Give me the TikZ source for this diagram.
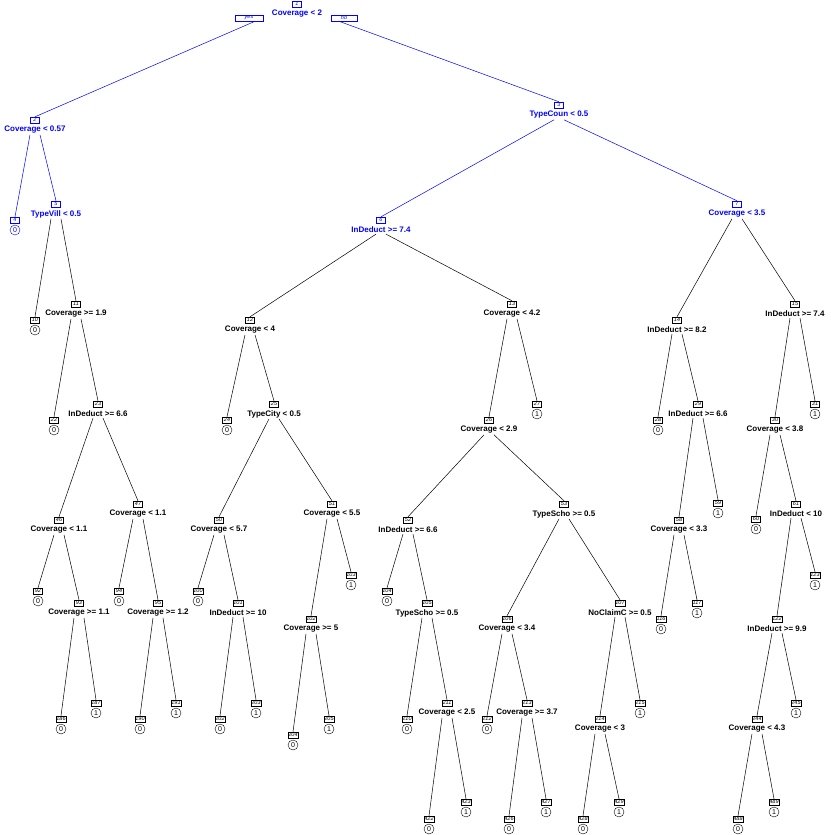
\documentclass[tikz,border=0pt]{standalone}
\usepackage{fontspec}
\setmainfont{Liberation Sans}
\begin{document}
\begin{tikzpicture}[x=1pt,y=-1pt,
  lab/.style={font=\bfseries\fontsize{8}{9}\selectfont,inner sep=1pt},
  num/.style={draw,font=\itshape\fontsize{5.5}{6}\selectfont,inner sep=0.6pt,minimum width=9pt,minimum height=6pt},
  val/.style={draw,circle,font=\fontsize{7}{8}\selectfont,inner sep=0.5pt,minimum size=10pt},
  ed/.style={line width=0.5pt}]
\useasboundingbox (0,0) rectangle (830,835);
\newcommand\spl[5]{\node[num,#5] (B#1) at (#2,#3-10) {#1};\node[lab,text=#5] (L#1) at (#2,#3) {#4};}
\newcommand\lf[5]{\node[num,#5] (B#1) at (#2,#3) {#1};\node[val,#5,text=#5] (C#1) at (#2,#3+10) {#4};}
\newcommand\edl[3]{\draw[ed,#3] ([xshift=-5]L#1.south) -- (B#2.north);}
\newcommand\edr[3]{\draw[ed,#3] ([xshift=5]L#1.south) -- (B#2.north);}
\spl{1}{297}{14}{Coverage < 2}{blue}
\node[num,blue,minimum width=28pt] (yes) at (249,18) {yes};
\node[num,blue,minimum width=26pt] (no) at (344,18) {no};
\spl{2}{35}{130}{Coverage < 0.57}{blue}
\lf{4}{15}{220}{0}{blue}
\spl{5}{56}{214}{TypeVill < 0.5}{blue}
\spl{3}{559}{115}{TypeCoun < 0.5}{blue}
\spl{6}{381}{230}{InDeduct >= 7.4}{blue}
\spl{7}{737}{214}{Coverage < 3.5}{blue}
\lf{10}{35}{320}{0}{black}
\spl{11}{76}{314}{Coverage >= 1.9}{black}
\lf{22}{54}{420}{0}{black}
\spl{23}{98}{414}{InDeduct >= 6.6}{black}
\spl{46}{59}{530}{Coverage < 1.1}{black}
\spl{47}{138}{514}{Coverage < 1.1}{black}
\lf{92}{38}{591}{0}{black}
\spl{93}{79}{613}{Coverage >= 1.1}{black}
\lf{186}{61}{719}{0}{black}
\lf{187}{96}{703}{1}{black}
\lf{94}{119}{591}{0}{black}
\spl{95}{158}{613}{Coverage >= 1.2}{black}
\lf{190}{140}{719}{0}{black}
\lf{191}{176}{703}{1}{black}
\spl{12}{250}{330}{Coverage < 4}{black}
\spl{13}{512}{314}{Coverage < 4.2}{black}
\lf{24}{227}{420}{0}{black}
\spl{25}{274}{414}{TypeCity < 0.5}{black}
\spl{50}{219}{530}{Coverage < 5.7}{black}
\spl{51}{332}{514}{Coverage < 5.5}{black}
\lf{100}{198}{591}{0}{black}
\spl{101}{238}{613}{InDeduct >= 10}{black}
\lf{202}{220}{719}{0}{black}
\lf{203}{256}{703}{1}{black}
\spl{102}{311}{629}{Coverage >= 5}{black}
\lf{103}{351}{575}{1}{black}
\lf{204}{293}{735}{0}{black}
\lf{205}{329}{719}{1}{black}
\spl{26}{489}{430}{Coverage < 2.9}{black}
\lf{27}{537}{404}{1}{black}
\spl{52}{408}{530}{InDeduct >= 6.6}{black}
\spl{53}{564}{514}{TypeScho >= 0.5}{black}
\lf{104}{387}{591}{0}{black}
\spl{105}{427}{613}{TypeScho >= 0.5}{black}
\lf{210}{407}{719}{0}{black}
\spl{211}{447}{713}{Coverage < 2.5}{black}
\lf{422}{429}{819}{0}{black}
\lf{423}{466}{802}{1}{black}
\spl{106}{507}{629}{Coverage < 3.4}{black}
\spl{107}{620}{613}{NoClaimC >= 0.5}{black}
\lf{212}{487}{719}{0}{black}
\spl{213}{527}{713}{Coverage >= 3.7}{black}
\lf{426}{509}{819}{0}{black}
\lf{427}{546}{802}{1}{black}
\spl{214}{600}{729}{Coverage < 3}{black}
\lf{215}{640}{703}{1}{black}
\lf{428}{583}{819}{0}{black}
\lf{429}{619}{802}{1}{black}
\spl{14}{677}{330}{InDeduct >= 8.2}{black}
\spl{15}{795}{314}{InDeduct >= 7.4}{black}
\lf{28}{658}{420}{0}{black}
\spl{29}{698}{414}{InDeduct >= 6.6}{black}
\spl{58}{679}{530}{Coverage < 3.3}{black}
\lf{59}{718}{503}{1}{black}
\lf{116}{661}{619}{0}{black}
\lf{117}{697}{603}{1}{black}
\spl{30}{775}{430}{Coverage < 3.8}{black}
\lf{31}{815}{404}{1}{black}
\lf{60}{756}{519}{0}{black}
\spl{61}{796}{514}{InDeduct < 10}{black}
\spl{122}{777}{629}{InDeduct >= 9.9}{black}
\lf{123}{815}{575}{1}{black}
\spl{244}{757}{729}{Coverage < 4.3}{black}
\lf{245}{796}{703}{1}{black}
\lf{488}{738}{819}{0}{black}
\lf{489}{774}{802}{1}{black}
% edges
\draw[ed,blue] (yes.south east) ++(-8,0) -- (B2.north);
\draw[ed,blue] (no.south west) ++(8,0) -- (B3.north);
\edl{2}{4}{blue}\edr{2}{5}{blue}
\edl{3}{6}{blue}\edr{3}{7}{blue}
\edl{5}{10}{black}\edr{5}{11}{black}
\edl{11}{22}{black}\edr{11}{23}{black}
\edl{23}{46}{black}\edr{23}{47}{black}
\edl{46}{92}{black}\edr{46}{93}{black}
\edl{93}{186}{black}\edr{93}{187}{black}
\edl{47}{94}{black}\edr{47}{95}{black}
\edl{95}{190}{black}\edr{95}{191}{black}
\edl{6}{12}{black}\edr{6}{13}{black}
\edl{12}{24}{black}\edr{12}{25}{black}
\edl{25}{50}{black}\edr{25}{51}{black}
\edl{50}{100}{black}\edr{50}{101}{black}
\edl{101}{202}{black}\edr{101}{203}{black}
\edl{51}{102}{black}\edr{51}{103}{black}
\edl{102}{204}{black}\edr{102}{205}{black}
\edl{13}{26}{black}\edr{13}{27}{black}
\edl{26}{52}{black}\edr{26}{53}{black}
\edl{52}{104}{black}\edr{52}{105}{black}
\edl{105}{210}{black}\edr{105}{211}{black}
\edl{211}{422}{black}\edr{211}{423}{black}
\edl{53}{106}{black}\edr{53}{107}{black}
\edl{106}{212}{black}\edr{106}{213}{black}
\edl{213}{426}{black}\edr{213}{427}{black}
\edl{107}{214}{black}\edr{107}{215}{black}
\edl{214}{428}{black}\edr{214}{429}{black}
\edl{7}{14}{black}\edr{7}{15}{black}
\edl{14}{28}{black}\edr{14}{29}{black}
\edl{29}{58}{black}\edr{29}{59}{black}
\edl{58}{116}{black}\edr{58}{117}{black}
\edl{15}{30}{black}\edr{15}{31}{black}
\edl{30}{60}{black}\edr{30}{61}{black}
\edl{61}{122}{black}\edr{61}{123}{black}
\edl{122}{244}{black}\edr{122}{245}{black}
\edl{244}{488}{black}\edr{244}{489}{black}
\end{tikzpicture}
\end{document}
